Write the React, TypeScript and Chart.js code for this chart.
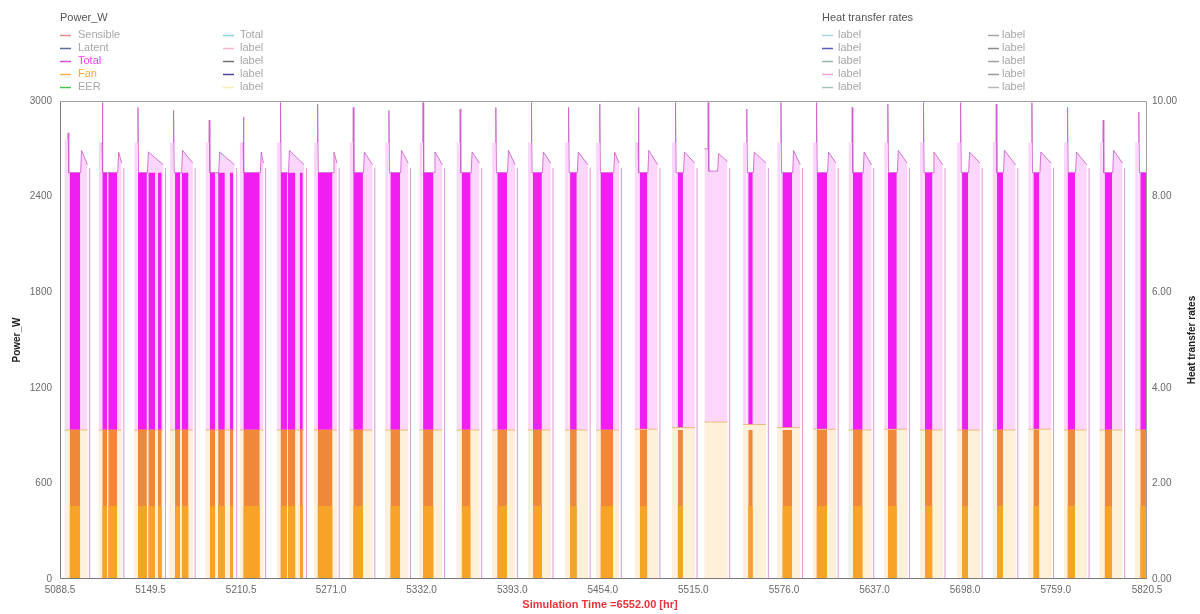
import { useEffect, useRef } from "react";
import { Chart, registerables } from "chart.js";
Chart.register(...registerables);

// ---- axis ticks ----
const xTicks = [5088.5, 5149.5, 5210.5, 5271.0, 5332.0, 5393.0, 5454.0, 5515.0, 5576.0, 5637.0, 5698.0, 5759.0, 5820.5];
const X_MIN = 5088.5;
const X_MAX = 5820.5;

// ---- daily operating cycles (hours) ----
const dayStart = [5094, 5117, 5141, 5165, 5189, 5212, 5237, 5262, 5286, 5310, 5333, 5358, 5382, 5406, 5431, 5452, 5478, 5503, 5525, 5551, 5574, 5598, 5622, 5646, 5670, 5695, 5719, 5743, 5767, 5791, 5815];
const onStart = [5091.5, 5114.5, 5138.5, 5162.5, 5186.5, 5209.5, 5234.5, 5259.5, 5283.5, 5307.5, 5330.5, 5355.5, 5379.5, 5403.5, 5428.5, 5449.5, 5475.5, 5500.5, 5522.5, 5548.5, 5571.5, 5595.5, 5619.5, 5643.5, 5667.5, 5692.5, 5716.5, 5740.5, 5764.5, 5788.5, 5812.5];
const onEnd = [5107, 5130, 5158, 5178, 5206, 5225.5, 5253, 5275, 5299, 5323, 5346, 5371, 5395, 5419, 5444, 5465, 5491, 5516, 5538, 5564, 5587, 5611, 5635, 5659, 5683, 5708, 5732, 5756, 5780, 5804, 5828];
const tailAt = [5108.5, 5131.5, 5159.5, 5179.5, 5207.5, 5227, 5254.5, 5276.5, 5300.5, 5324.5, 5347.5, 5372.5, 5396.5, 5420.5, 5445.5, 5466.5, 5492.5, 5517.5, 5539.5, 5565.5, 5588.5, 5612.5, 5636.5, 5660.5, 5684.5, 5709.5, 5733.5, 5757.5, 5781.5, 5805.5, 5829.5];
const bumpAt = [5103, 5128, 5148, 5171, 5196, 5224, 5243, 5273, 5293.5, 5318.5, 5341, 5366, 5390.5, 5414, 5437.5, 5462, 5485, 5509, 5532, 5556, 5582.5, 5606, 5630, 5653, 5677, 5701, 5724.5, 5749, 5773, 5798, 5821];

// Total power (W) envelope values per day
const preW = [2760, 2740, 2740, 2740, 2740, 2740, 2740, 2740, 2740, 2740, 2740, 2740, 2740, 2740, 2740, 2740, 2740, 2740, 2700, 2740, 2740, 2740, 2740, 2740, 2740, 2740, 2740, 2740, 2740, 2740, 2740];
const peakW = [2800, 2990, 2960, 2940, 2880, 2900, 2990, 2980, 2960, 2940, 2990, 2950, 2960, 2990, 2960, 2980, 2960, 2990, 2990, 2950, 2990, 2990, 2960, 2980, 2990, 2990, 2980, 2990, 2960, 2880, 2930];
const lowW = [2550, 2550, 2550, 2550, 2550, 2550, 2550, 2550, 2550, 2550, 2550, 2550, 2550, 2550, 2550, 2550, 2550, 2550, 2560, 2550, 2550, 2550, 2550, 2550, 2550, 2550, 2550, 2550, 2550, 2550, 2550];
const bumpW = [2690, 2680, 2680, 2690, 2680, 2680, 2690, 2680, 2680, 2690, 2680, 2680, 2690, 2680, 2680, 2680, 2690, 2680, 2670, 2680, 2690, 2680, 2680, 2690, 2680, 2680, 2690, 2680, 2680, 2690, 2680];
const endW = [2600, 2610, 2600, 2610, 2600, 2610, 2600, 2610, 2600, 2610, 2600, 2610, 2600, 2610, 2600, 2610, 2600, 2610, 2620, 2610, 2600, 2610, 2600, 2610, 2600, 2610, 2600, 2610, 2600, 2610, 2600];
const tailW = [2580, 2580, 2580, 2580, 2580, 2580, 2580, 2580, 2580, 2580, 2580, 2580, 2580, 2580, 2580, 2580, 2580, 2580, 2580, 2580, 2580, 2580, 2580, 2580, 2580, 2580, 2580, 2580, 2580, 2580, 2580];
// Fan power (W) per day during the on period
const fanW = [935, 935, 935, 935, 935, 935, 935, 935, 935, 935, 935, 935, 935, 935, 935, 935, 940, 950, 985, 970, 950, 940, 935, 940, 935, 935, 935, 940, 935, 935, 935];

// ---- continuous compressor running intervals (hours) ----
const runFrom = [5095, 5117, 5121, 5141, 5148, 5154.5, 5166, 5170.5, 5189.5, 5195, 5203, 5212, 5237, 5242, 5250, 5262, 5286, 5311, 5333, 5359, 5383, 5407, 5432, 5452.5, 5479, 5504.5, 5552, 5575, 5598, 5622.5, 5646, 5671, 5696, 5719.5, 5744, 5767, 5792, 5816];
const runTo = [5102, 5120.3, 5127, 5147, 5152.5, 5157, 5169.3, 5175, 5193, 5199.5, 5205, 5223, 5241.5, 5247, 5252, 5272, 5292.5, 5317.5, 5340, 5365, 5389.5, 5413, 5436.5, 5461, 5484, 5508, 5555, 5581.5, 5605, 5629, 5652, 5676, 5700, 5723.5, 5748, 5772, 5797, 5820.5];
const runTotalW = 2550;
const runFanW = 935;
const runFanBaseW = 458;

// ---- legend text ----
const powerLabels = ["Sensible", "Latent", "Total", "Fan", "EER", "Total", "label", "label", "label", "label"];
const heatLabels = ["label", "label", "label", "label", "label", "label", "label", "label", "label", "label"];

const powerLineColors = ["#e58c8c", "#5d6c9c", "#e04fe0", "#f7b34a", "#4cc24c", "#8fd3d8", "#f6b6d2", "#707070", "#4a4a9a", "#f6f0b0"];
const powerTextColors = ["#a8a8a8", "#a8a8a8", "#ff3cff", "#ffab2e", "#a8a8a8", "#a8a8a8", "#a8a8a8", "#a8a8a8", "#a8a8a8", "#a8a8a8"];
const heatLineColors = ["#a8d4f0", "#5a5ab8", "#9ab4a4", "#f0a0d4", "#a4c4c0", "#a8a8a8", "#8a8a8a", "#a0a0a0", "#9a9a9a", "#b8b8b8"];

type P = { x: number; y: number | null };

function buildEnvelope(): P[] {
  const pts: P[] = [];
  for (let i = 0; i < dayStart.length; i++) {
    const t = dayStart[i];
    pts.push({ x: onStart[i], y: preW[i] });
    pts.push({ x: t - 0.2, y: preW[i] });
    pts.push({ x: t, y: peakW[i] });
    pts.push({ x: t + 0.4, y: lowW[i] });
    pts.push({ x: bumpAt[i] - 0.6, y: lowW[i] });
    pts.push({ x: bumpAt[i], y: bumpW[i] });
    pts.push({ x: onEnd[i], y: endW[i] });
    pts.push({ x: onEnd[i], y: null });
  }
  return pts;
}

function buildTails(): P[] {
  const pts: P[] = [];
  for (let i = 0; i < tailAt.length; i++) {
    pts.push({ x: tailAt[i], y: 0 });
    pts.push({ x: tailAt[i], y: tailW[i] });
    pts.push({ x: tailAt[i], y: null });
  }
  return pts;
}

function buildFanOn(): P[] {
  const pts: P[] = [];
  for (let i = 0; i < dayStart.length; i++) {
    pts.push({ x: onStart[i], y: fanW[i] });
    pts.push({ x: onEnd[i], y: fanW[i] });
    pts.push({ x: onEnd[i], y: null });
  }
  return pts;
}

function buildRuns(level: number): P[] {
  const pts: P[] = [];
  for (let i = 0; i < runFrom.length; i++) {
    pts.push({ x: runFrom[i], y: level });
    pts.push({ x: runTo[i], y: level });
    pts.push({ x: runTo[i], y: null });
  }
  return pts;
}

const FONT = "'Liberation Sans', Arial, sans-serif";

const decor = {
  id: "decor",
  afterDraw(chart: any) {
    const { ctx, chartArea: a } = chart;
    ctx.save();
    // frame
    ctx.lineWidth = 1;
    ctx.strokeStyle = "#a0a0a0";
    ctx.beginPath();
    ctx.moveTo(Math.round(a.left) + 0.5, Math.round(a.top) + 0.5);
    ctx.lineTo(Math.round(a.right) - 0.5, Math.round(a.top) + 0.5);
    ctx.lineTo(Math.round(a.right) - 0.5, Math.round(a.bottom) - 0.5);
    ctx.stroke();
    ctx.strokeStyle = "#7a7a7a";
    ctx.beginPath();
    ctx.moveTo(Math.round(a.left) + 0.5, Math.round(a.top) + 0.5);
    ctx.lineTo(Math.round(a.left) + 0.5, Math.round(a.bottom) - 0.5);
    ctx.lineTo(Math.round(a.right) - 0.5, Math.round(a.bottom) - 0.5);
    ctx.stroke();

    // axis titles
    ctx.fillStyle = "#222";
    ctx.font = `bold 10px ${FONT}`;
    ctx.textAlign = "center";
    ctx.textBaseline = "middle";
    const cy = (a.top + a.bottom) / 2;
    ctx.save();
    ctx.translate(17, cy);
    ctx.rotate(-Math.PI / 2);
    ctx.fillText("Power_W", 0, 0);
    ctx.restore();
    ctx.save();
    ctx.translate(1192, cy);
    ctx.rotate(-Math.PI / 2);
    ctx.fillText("Heat transfer rates", 0, 0);
    ctx.restore();

    ctx.font = `bold 11px ${FONT}`;
    ctx.fillStyle = "#e8343c";
    ctx.fillText("Simulation Time =6552.00 [hr]", 600, 605);

    // legends
    const rowsY = [35, 48, 61, 74, 87];
    ctx.textAlign = "left";
    ctx.font = `11px ${FONT}`;
    ctx.fillStyle = "#555";
    ctx.fillText("Power_W", 60, 18);
    ctx.fillText("Heat transfer rates", 822, 18);
    const drawEntry = (lx: number, tx: number, y: number, lc: string, tc: string, label: string) => {
      ctx.strokeStyle = lc;
      ctx.lineWidth = 1.5;
      ctx.beginPath();
      ctx.moveTo(lx, y + 0.5);
      ctx.lineTo(lx + 11, y + 0.5);
      ctx.stroke();
      ctx.fillStyle = tc;
      ctx.fillText(label, tx, y);
    };
    for (let i = 0; i < 10; i++) {
      const col = i < 5 ? 0 : 1;
      const y = rowsY[i % 5];
      drawEntry(col ? 223 : 60, col ? 240 : 78, y, powerLineColors[i], powerTextColors[i], powerLabels[i]);
      drawEntry(col ? 988 : 822, col ? 1002 : 838, y, heatLineColors[i], "#a8a8a8", heatLabels[i]);
    }
    ctx.restore();
  },
};

export default function App() {
  const ref = useRef<HTMLCanvasElement | null>(null);
  useEffect(() => {
    document.body.style.margin = "0";
    document.body.style.overflow = "hidden";
    const canvas = ref.current;
    if (!canvas) return;
    const tickFont = { family: FONT, size: 10 };
    const chart = new Chart(canvas, {
      type: "line",
      data: {
        datasets: [
          {
            label: "Total envelope",
            data: buildEnvelope(),
            borderColor: "rgba(205,95,205,0.85)",
            borderWidth: 1,
            backgroundColor: "#fcd6fc",
            fill: "origin",
            order: 10,
            segment: {
              borderColor: (c: any) =>
                c.p0.parsed.y === c.p1.parsed.y && c.p0.parsed.y > 2700 ? "rgba(0,0,0,0)" : undefined,
            },
          },
          {
            label: "Total cycling",
            data: buildTails(),
            borderColor: "rgba(200,110,200,0.7)",
            borderWidth: 1,
            fill: false,
            order: 9,
          },
          {
            label: "Total running",
            data: buildRuns(runTotalW),
            borderWidth: 0,
            borderColor: "rgba(0,0,0,0)",
            backgroundColor: "#f01ef0",
            fill: "origin",
            order: 8,
          },
          {
            label: "Fan on",
            data: buildFanOn(),
            borderColor: "rgba(232,178,100,0.8)",
            borderWidth: 1,
            backgroundColor: "#fff0da",
            fill: "origin",
            order: 7,
          },
          {
            label: "Fan running",
            data: buildRuns(runFanW),
            borderWidth: 0,
            borderColor: "rgba(0,0,0,0)",
            backgroundColor: "#ef8838",
            fill: "origin",
            order: 6,
          },
          {
            label: "Fan base",
            data: buildRuns(runFanBaseW),
            borderWidth: 0,
            borderColor: "rgba(0,0,0,0)",
            backgroundColor: "#f6a328",
            fill: "origin",
            order: 5,
          },
        ],
      },
      options: {
        responsive: false,
        animation: false,
        events: [],
        layout: { padding: { top: 101, left: 0, right: 0, bottom: 0 } },
        elements: { point: { radius: 0 }, line: { tension: 0 } },
        plugins: { legend: { display: false }, tooltip: { enabled: false }, title: { display: false } },
        scales: {
          x: {
            type: "linear",
            min: X_MIN,
            max: X_MAX,
            grid: { display: false, drawTicks: false },
            border: { display: false },
            afterBuildTicks: (s: any) => {
              s.ticks = xTicks.map((v) => ({ value: v }));
            },
            afterFit: (s: any) => {
              s.height = 35;
            },
            ticks: {
              autoSkip: false,
              maxRotation: 0,
              padding: 5,
              color: "#6a6a6a",
              font: tickFont,
              callback: (v: any) => Number(v).toFixed(1),
            },
          },
          y: {
            type: "linear",
            position: "left",
            min: 0,
            max: 3000,
            grid: { display: false, drawTicks: false },
            border: { display: false },
            afterFit: (s: any) => {
              s.width = 60;
            },
            ticks: {
              stepSize: 600,
              padding: 8,
              color: "#6a6a6a",
              font: tickFont,
              callback: (v: any) => String(v),
            },
          },
          y1: {
            type: "linear",
            position: "right",
            min: 0,
            max: 10,
            grid: { display: false, drawTicks: false },
            border: { display: false },
            afterFit: (s: any) => {
              s.width = 53;
            },
            ticks: {
              stepSize: 2,
              padding: 5,
              color: "#6a6a6a",
              font: tickFont,
              callback: (v: any) => Number(v).toFixed(2),
            },
          },
        },
      } as any,
      plugins: [decor],
    });
    return () => chart.destroy();
  }, []);
  return (
    <div style={{ width: 1200, height: 614, position: "relative", background: "#fff" }}>
      <canvas ref={ref} width={1200} height={614} style={{ display: "block" }} />
    </div>
  );
}
